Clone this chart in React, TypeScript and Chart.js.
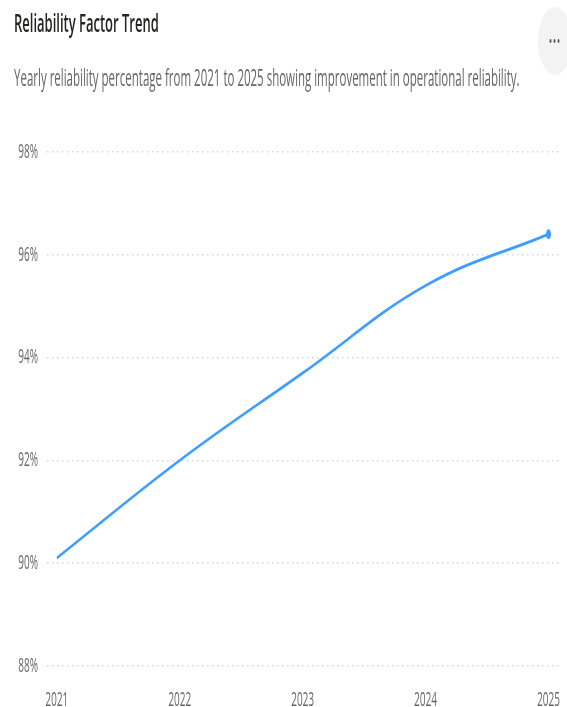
import React, { useEffect, useRef } from "react";
import { Chart, registerables } from "chart.js";

Chart.register(...registerables);

const years = [2021, 2022, 2023, 2024, 2025];
const reliability = [90.1, 92.0, 93.7, 95.4, 96.4];
const yTicks = [88, 90, 92, 94, 96, 98];
const titleText = "Reliability Factor Trend";
const subtitleText =
  "Yearly reliability percentage from 2021 to 2025 showing improvement in operational reliability.";

const SX = 0.5;
const W = 567 / SX;
const FONT = "'Open Sans', 'Noto Sans', sans-serif";

export default function App() {
  const ref = useRef<HTMLCanvasElement | null>(null);

  useEffect(() => {
    if (!ref.current) return;
    const chart = new Chart(ref.current, {
      type: "line",
      data: {
        datasets: [
          {
            data: years.map((y, i) => ({ x: y, y: reliability[i] })),
            borderColor: "#3d9eff",
            backgroundColor: "#3d9eff",
            borderWidth: 3,
            tension: 0.4,
            pointRadius: years.map((_, i) => (i === years.length - 1 ? 5 : 0)),
            pointBorderWidth: 0,
            pointBackgroundColor: "#3d9eff",
            fill: false,
          },
        ],
      },
      options: {
        animation: false,
        responsive: false,
        maintainAspectRatio: false,
        devicePixelRatio: 1,
        layout: { padding: { top: 32, left: 0, right: 0, bottom: 0 } },
        plugins: { legend: { display: false }, tooltip: { enabled: false }, title: { display: false } },
        scales: {
          x: {
            type: "linear",
            min: 2020.92,
            max: 2025.1,
            afterBuildTicks: (s: any) => {
              s.ticks = years.map((v) => ({ value: v }));
            },
            afterFit: (s: any) => {
              s.height = 41;
            },
            grid: { display: false },
            border: { display: false },
            ticks: {
              autoSkip: false,
              maxRotation: 0,
              padding: 14,
              color: "#666666",
              font: { family: FONT, size: 20 },
              callback: (v: any) => String(v),
            },
          },
          y: {
            min: 88,
            max: 98,
            afterBuildTicks: (s: any) => {
              s.ticks = yTicks.map((v) => ({ value: v }));
            },
            afterFit: (s: any) => {
              s.width = 94;
            },
            grid: { color: "#d6d6d6", lineWidth: 1.5, drawTicks: false },
            border: { display: false, dash: [3, 7] },
            ticks: {
              padding: 18,
              color: "#666666",
              font: { family: FONT, size: 20 },
              callback: (v: any) => v + "%",
            },
          },
        },
      },
    });
    return () => chart.destroy();
  }, []);

  return (
    <div style={{ position: "fixed", left: 0, top: 0, width: 567, height: 707, overflow: "hidden", background: "#fff" }}>
      <div
        style={{
          position: "absolute",
          left: 0,
          top: 0,
          width: W,
          height: 707,
          transform: `scaleX(${SX})`,
          transformOrigin: "0 0",
          fontFamily: FONT,
        }}
      >
        <div
          style={{
            position: "absolute",
            left: 28,
            top: 9,
            fontSize: 26,
            lineHeight: 1,
            fontWeight: 600,
            color: "#252423",
            whiteSpace: "nowrap",
          }}
        >
          {titleText}
        </div>
        <div
          style={{
            position: "absolute",
            left: 28,
            top: 66,
            fontSize: 23,
            lineHeight: 1,
            color: "#666666",
            whiteSpace: "nowrap",
          }}
        >
          {subtitleText}
        </div>
        <div
          style={{
            position: "absolute",
            left: 1076,
            top: 7,
            width: 68,
            height: 68,
            borderRadius: "50%",
            background: "#f3f3f3",
          }}
        >
          {[0, 1, 2].map((i) => (
            <div
              key={i}
              style={{
                position: "absolute",
                left: 23 + i * 8,
                top: 32,
                width: 4,
                height: 4,
                borderRadius: "50%",
                background: "#555",
              }}
            />
          ))}
        </div>
        <canvas
          ref={ref}
          width={W}
          height={587}
          style={{ position: "absolute", left: 0, top: 120, width: W, height: 587 }}
        />
      </div>
    </div>
  );
}
